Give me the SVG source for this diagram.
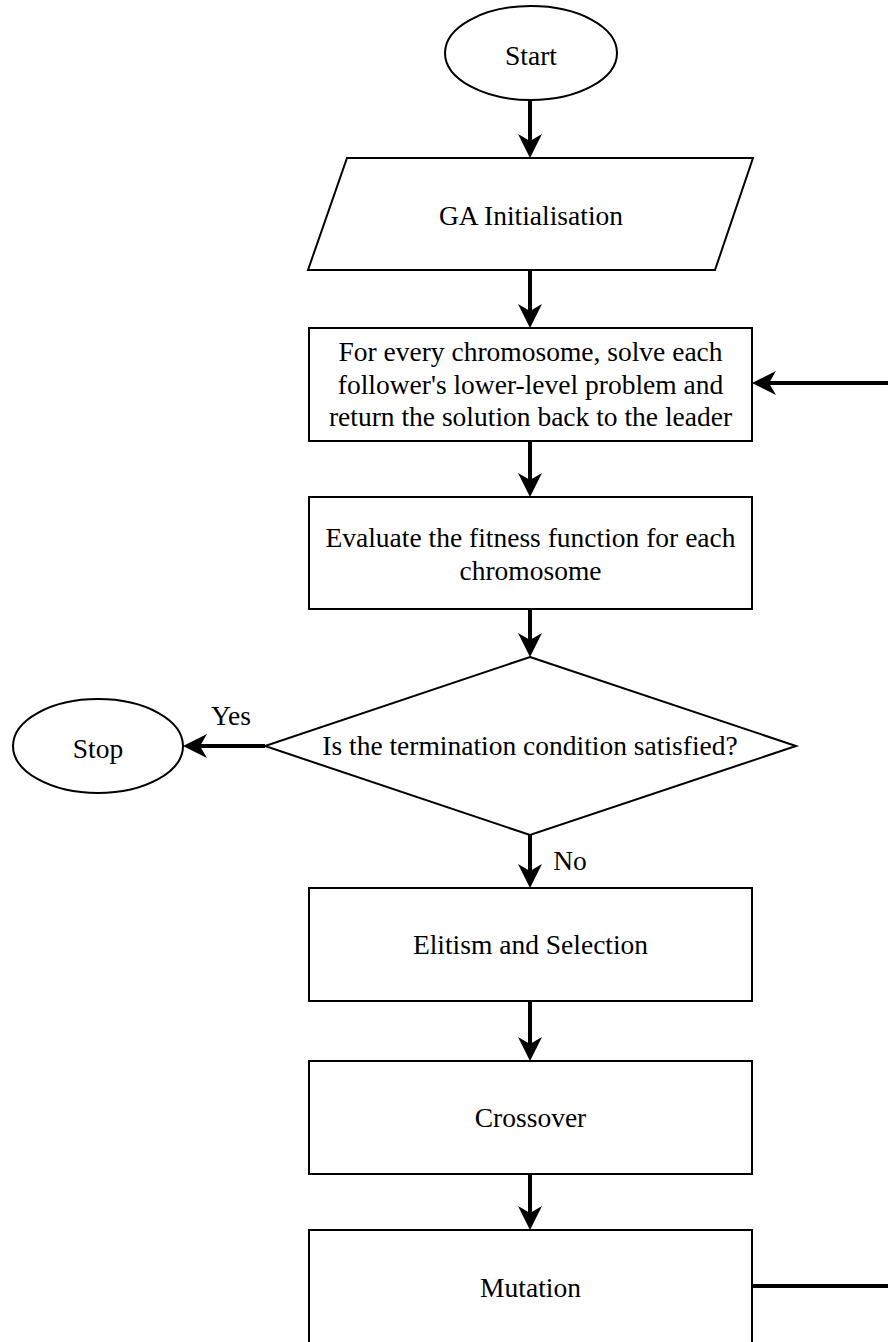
<svg xmlns="http://www.w3.org/2000/svg" width="888" height="1342" viewBox="0 0 888 1342">
  <style>
    .shape { fill: #ffffff; stroke: #000000; stroke-width: 2; }
    .label { font-family: "Liberation Serif", "Times New Roman", serif; font-size: 27.5px; fill: #000000; text-anchor: middle; }
    .edge { fill: none; stroke: #000000; stroke-width: 4; }
  </style>
  <defs>
    <!-- Filled arrowhead with a notched back; tip sits 8px past the path end -->
    <marker id="arrow" markerUnits="userSpaceOnUse" viewBox="0 0 24 24" markerWidth="24" markerHeight="24" refX="16" refY="12" orient="auto">
      <path d="M0,0 L24,12 L0,24 L7,12 Z" fill="#000000"/>
    </marker>
  </defs>

  <rect width="888" height="1342" fill="#ffffff"/>

  <!-- Connectors -->
  <g id="connectors">
    <path class="edge" d="M530,100 V150" marker-end="url(#arrow)"/>
    <path class="edge" d="M530,270 V320" marker-end="url(#arrow)"/>
    <path class="edge" d="M530,441 V489" marker-end="url(#arrow)"/>
    <path class="edge" d="M530,609 V649" marker-end="url(#arrow)"/>
    <path class="edge" d="M265,746 H191" marker-end="url(#arrow)"/>
    <path class="edge" d="M530,835 V880" marker-end="url(#arrow)"/>
    <path class="edge" d="M530,1001 V1053" marker-end="url(#arrow)"/>
    <path class="edge" d="M530,1174 V1222" marker-end="url(#arrow)"/>
    <!-- Loop back from Mutation to the lower-level solve step -->
    <path class="edge" d="M752,1286 H910 V383 H760" marker-end="url(#arrow)"/>
    <text class="label" x="231" y="725">Yes</text>
    <text class="label" x="570" y="870">No</text>
  </g>

  <g id="start">
    <ellipse class="shape" cx="531" cy="53" rx="86" ry="47"/>
    <text class="label" x="531" y="65">Start</text>
  </g>

  <g id="ga-init">
    <polygon class="shape" points="347,158 753,158 715,270 308,270"/>
    <text class="label" x="531" y="225">GA Initialisation</text>
  </g>

  <g id="solve-lower-level">
    <rect class="shape" x="309" y="328" width="443" height="113"/>
    <text class="label" x="530.5" y="361">For every chromosome, solve each</text>
    <text class="label" x="530.5" y="393.5">follower's lower-level problem and</text>
    <text class="label" x="530.5" y="426">return the solution back to the leader</text>
  </g>

  <g id="evaluate-fitness">
    <rect class="shape" x="309" y="497" width="443" height="112"/>
    <text class="label" x="530.5" y="547">Evaluate the fitness function for each</text>
    <text class="label" x="530.5" y="579.5">chromosome</text>
  </g>

  <g id="termination-check">
    <polygon class="shape" points="530,657 796,746 530,835 265,746"/>
    <text class="label" x="530" y="755">Is the termination condition satisfied?</text>
  </g>

  <g id="stop">
    <ellipse class="shape" cx="98" cy="746" rx="85" ry="47"/>
    <text class="label" x="98" y="758">Stop</text>
  </g>

  <g id="elitism-selection">
    <rect class="shape" x="309" y="888" width="443" height="113"/>
    <text class="label" x="530.5" y="954">Elitism and Selection</text>
  </g>

  <g id="crossover">
    <rect class="shape" x="309" y="1061" width="443" height="113"/>
    <text class="label" x="530.5" y="1127">Crossover</text>
  </g>

  <g id="mutation">
    <rect class="shape" x="309" y="1230" width="443" height="130"/>
    <text class="label" x="530.5" y="1297">Mutation</text>
  </g>
</svg>
